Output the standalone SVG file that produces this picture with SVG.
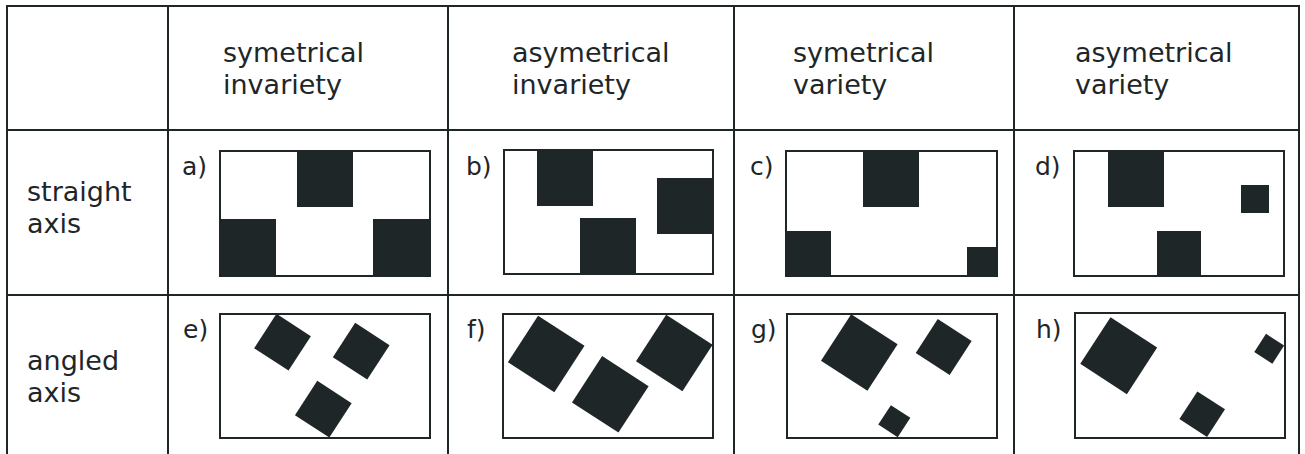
<svg xmlns="http://www.w3.org/2000/svg" width="1305" height="454" viewBox="0 0 1305 454">
  <style>
    .grid { stroke: #1e2628; stroke-width: 2; fill: none; }
    .frame { stroke: #1e2628; stroke-width: 2; fill: #ffffff; }
    .blk { fill: #1e2628; }
    .hd { font-family: "DejaVu Sans", sans-serif; font-size: 27px; fill: #1e2628; }
    .lb { font-family: "DejaVu Sans", sans-serif; font-size: 25px; fill: #1e2628; }
  </style>
  <rect width="1305" height="454" fill="#ffffff"/>

  <!-- table grid -->
  <g id="grid" class="grid">
    <line x1="7" y1="6" x2="1299" y2="6"/>
    <line x1="7" y1="130" x2="1299" y2="130"/>
    <line x1="7" y1="295" x2="1299" y2="295"/>
    <line x1="7" y1="5" x2="7" y2="460"/>
    <line x1="168" y1="5" x2="168" y2="460"/>
    <line x1="448" y1="5" x2="448" y2="460"/>
    <line x1="734" y1="5" x2="734" y2="460"/>
    <line x1="1014" y1="5" x2="1014" y2="460"/>
    <line x1="1299" y1="5" x2="1299" y2="460"/>
  </g>

  <!-- column headers -->
  <g id="headers" class="hd">
    <text x="223" y="62">symetrical</text>
    <text x="223" y="94">invariety</text>
    <text x="512" y="62">asymetrical</text>
    <text x="512" y="94">invariety</text>
    <text x="793" y="62">symetrical</text>
    <text x="793" y="94">variety</text>
    <text x="1075" y="62">asymetrical</text>
    <text x="1075" y="94">variety</text>
  </g>

  <!-- row headers -->
  <g id="rows" class="hd">
    <text x="27" y="201">straight</text>
    <text x="27" y="233">axis</text>
    <text x="27" y="370">angled</text>
    <text x="27" y="402">axis</text>
  </g>

  <!-- a) symmetrical invariety, straight axis -->
  <g id="cell-a">
    <text class="lb" x="182" y="175">a)</text>
    <rect class="frame" x="220" y="151" width="210" height="125"/>
    <rect class="blk" x="297" y="151" width="56" height="56"/>
    <rect class="blk" x="220" y="219" width="56" height="57"/>
    <rect class="blk" x="373" y="219" width="57" height="57"/>
  </g>

  <!-- b) asymmetrical invariety, straight axis -->
  <g id="cell-b">
    <text class="lb" x="466" y="175">b)</text>
    <rect class="frame" x="504" y="150" width="209" height="124"/>
    <rect class="blk" x="537" y="150" width="56" height="56"/>
    <rect class="blk" x="580" y="218" width="56" height="56"/>
    <rect class="blk" x="657" y="178" width="56" height="56"/>
  </g>

  <!-- c) symmetrical variety, straight axis -->
  <g id="cell-c">
    <text class="lb" x="750" y="175">c)</text>
    <rect class="frame" x="786" y="151" width="211" height="125"/>
    <rect class="blk" x="863" y="151" width="56" height="56"/>
    <rect class="blk" x="786" y="231" width="45" height="45"/>
    <rect class="blk" x="967" y="247" width="30" height="29"/>
  </g>

  <!-- d) asymmetrical variety, straight axis -->
  <g id="cell-d">
    <text class="lb" x="1035" y="175">d)</text>
    <rect class="frame" x="1074" y="151" width="210" height="125"/>
    <rect class="blk" x="1108" y="151" width="56" height="56"/>
    <rect class="blk" x="1157" y="231" width="44" height="45"/>
    <rect class="blk" x="1241" y="185" width="28" height="28"/>
  </g>

  <!-- e) symmetrical invariety, angled axis -->
  <g id="cell-e">
    <text class="lb" x="183" y="338">e)</text>
    <rect class="frame" x="220" y="314" width="210" height="124"/>
    <rect class="blk" x="-20.5" y="-20.5" width="41" height="41" transform="translate(282.5 342.2) rotate(33)"/>
    <rect class="blk" x="-20.5" y="-20.5" width="41" height="41" transform="translate(361.2 351.2) rotate(33)"/>
    <rect class="blk" x="-20.5" y="-20.5" width="41" height="41" transform="translate(323.3 409.2) rotate(33)"/>
  </g>

  <!-- f) asymmetrical invariety, angled axis -->
  <g id="cell-f">
    <text class="lb" x="467" y="338">f)</text>
    <rect class="frame" x="503" y="314" width="210" height="124"/>
    <rect class="blk" x="-27.7" y="-27.7" width="55.4" height="55.4" transform="translate(546.2 354) rotate(33)"/>
    <rect class="blk" x="-27.7" y="-27.7" width="55.4" height="55.4" transform="translate(610.3 394.3) rotate(33)"/>
    <rect class="blk" x="-27.7" y="-27.7" width="55.4" height="55.4" transform="translate(674.3 353) rotate(33)"/>
  </g>

  <!-- g) symmetrical variety, angled axis -->
  <g id="cell-g">
    <text class="lb" x="751" y="338">g)</text>
    <rect class="frame" x="787" y="314" width="210" height="124"/>
    <rect class="blk" x="-27.7" y="-27.7" width="55.4" height="55.4" transform="translate(859.3 352.5) rotate(33)"/>
    <rect class="blk" x="-20.2" y="-20.2" width="40.4" height="40.4" transform="translate(943.7 347) rotate(33)"/>
    <rect class="blk" x="-11.6" y="-11.6" width="23.2" height="23.2" transform="translate(894.3 421.2) rotate(33)"/>
  </g>

  <!-- h) asymmetrical variety, angled axis -->
  <g id="cell-h">
    <text class="lb" x="1036" y="338">h)</text>
    <rect class="frame" x="1075" y="313" width="210" height="125"/>
    <rect class="blk" x="-27.8" y="-27.8" width="55.6" height="55.6" transform="translate(1118.7 355.7) rotate(33)"/>
    <rect class="blk" x="-16.5" y="-16.5" width="33" height="33" transform="translate(1202.2 414.2) rotate(33)"/>
    <rect class="blk" x="-10.8" y="-10.8" width="21.6" height="21.6" transform="translate(1269.2 348.8) rotate(33)"/>
  </g>
</svg>
